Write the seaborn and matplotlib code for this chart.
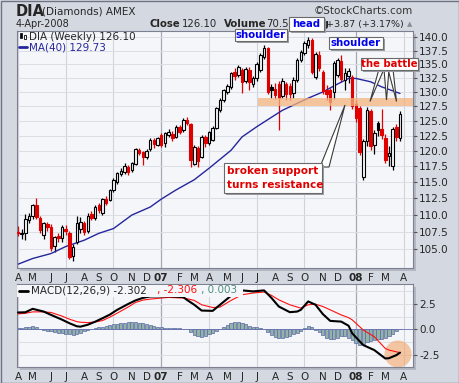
import numpy as np
import pandas as pd
import matplotlib
matplotlib.use("Agg")
import matplotlib.pyplot as plt
import seaborn as sns
from matplotlib.patches import Rectangle, Polygon, Ellipse
from matplotlib.ticker import FixedLocator, FormatStrFormatter, NullLocator

# weekly DIA candles, Apr 2006 - Apr 2008
opens = [107.5, 107.2, 107.3, 109.3, 109.85, 111.5, 109.6, 107.1, 108.6, 108.25,
         105.5, 106.9, 106.6, 108.0, 107.3, 104.05, 106.1, 107.95, 108.8, 107.6,
         110.1, 109.6, 111.5, 110.25, 112.45, 112.3, 113.8, 115.1, 116.35, 116.65,
         117.45, 116.9, 117.9, 120.15, 119.85, 119.05, 120.35, 121.75, 120.95, 122.65,
         121.25, 122.65, 122.85, 122.35, 124.0, 123.45, 125.1, 124.45, 117.95, 120.45,
         119.05, 122.35, 121.25, 121.8, 123.75, 126.85, 128.6, 130.05, 130.95, 133.55,
         133.0, 134.0, 131.9, 134.0, 131.4, 132.4, 134.0, 136.3, 137.9, 130.8,
         130.6, 131.4, 129.3, 131.4, 131.0, 129.8, 132.2, 135.8, 137.0, 138.6,
         139.5, 132.7, 136.7, 133.6, 130.3, 130.4, 130.0, 133.0, 135.5, 132.2,
         132.8, 132.6, 127.8, 127.2, 115.8, 121.6, 126.7, 121.0, 124.6, 123.6,
         122.2, 119.1, 117.6, 124.0, 122.2]
highs = [108.4, 107.9, 110.2, 110.3, 111.7, 112.5, 109.8, 109.0, 109.0, 108.7,
         106.9, 107.3, 108.45, 108.5, 107.6, 105.7, 109.9, 109.7, 109.1, 110.3,
         110.6, 111.5, 111.8, 112.55, 112.9, 114.0, 115.6, 116.65, 117.2, 118.1,
         117.7, 118.2, 120.45, 120.55, 120.05, 120.35, 122.05, 122.15, 122.35, 122.95,
         123.15, 123.55, 123.25, 124.25, 124.35, 125.4, 125.6, 124.65, 120.95, 120.85,
         122.65, 122.65, 123.35, 124.15, 127.45, 128.85, 130.55, 131.4, 133.55, 134.35,
         134.8, 134.35, 134.4, 134.5, 132.8, 135.4, 137.0, 138.55, 138.2, 131.4,
         131.6, 131.9, 132.4, 131.8, 131.6, 132.6, 136.2, 137.6, 139.3, 140.1,
         139.8, 137.2, 137.4, 134.0, 131.2, 130.7, 135.6, 136.2, 136.6, 134.2,
         134.3, 133.0, 128.5, 127.6, 122.0, 127.3, 127.0, 123.5, 125.0, 127.0,
         122.8, 120.8, 124.0, 124.4, 126.7]
lows = [106.9, 106.5, 106.3, 108.75, 109.4, 109.4, 107.3, 106.5, 107.6, 104.8,
        104.6, 106.0, 106.1, 107.1, 103.6, 103.4, 105.8, 107.3, 107.1, 107.4,
        109.3, 109.3, 110.25, 109.95, 111.45, 112.05, 113.5, 114.8, 115.95, 116.25,
        116.15, 116.65, 117.7, 119.35, 117.8, 118.75, 120.05, 120.55, 120.75, 120.65,
        120.65, 122.25, 121.55, 122.05, 122.75, 123.15, 124.3, 117.45, 117.7, 117.35,
        118.8, 120.65, 120.95, 121.55, 123.55, 126.45, 128.25, 129.6, 130.5, 132.2,
        132.6, 129.85, 131.5, 130.4, 130.9, 132.0, 133.6, 135.9, 129.6, 128.9,
        128.7, 123.5, 128.9, 128.6, 128.6, 129.0, 131.8, 135.3, 136.6, 138.0,
        133.2, 132.3, 133.8, 129.6, 128.6, 126.9, 128.7, 132.6, 131.8, 130.4,
        131.5, 127.1, 124.8, 119.3, 115.4, 120.8, 120.2, 119.5, 122.4, 122.0,
        118.1, 117.5, 117.0, 121.7, 121.7]
closes = [107.3, 107.4, 109.4, 109.85, 111.5, 109.7, 107.8, 108.85, 108.3, 105.2,
          106.7, 106.6, 108.2, 107.6, 103.95, 105.35, 108.8, 109.0, 107.5, 109.9,
          109.6, 111.25, 110.7, 112.35, 111.85, 113.8, 115.35, 116.4, 116.75, 117.6,
          116.55, 118.0, 120.25, 119.7, 119.05, 120.05, 121.75, 121.05, 122.05, 120.95,
          122.9, 123.05, 122.15, 124.0, 123.2, 125.1, 124.7, 118.5, 120.7, 118.3,
          122.35, 121.25, 123.15, 123.85, 127.15, 128.6, 130.35, 131.1, 133.3, 132.8,
          134.4, 131.85, 134.1, 131.7, 132.4, 135.1, 136.7, 137.9, 130.0, 130.3,
          129.5, 129.0, 132.0, 129.7, 129.6, 132.2, 135.8, 137.3, 139.0, 139.4,
          133.5, 136.9, 134.2, 130.1, 129.6, 128.3, 135.2, 135.8, 132.3, 133.4,
          133.7, 127.6, 125.5, 119.9, 121.6, 126.9, 120.8, 122.9, 123.5, 122.7,
          118.6, 119.6, 123.6, 122.23, 126.1]

# MA(40) read at a few weeks
ma_week = [0, 4, 9, 13, 18, 22, 26, 31, 36, 39, 43, 48, 52, 58, 61, 65, 69, 72,
           76, 79, 83, 87, 90, 92, 96, 99, 104]
ma_value = [102.9, 103.7, 104.4, 105.4, 106.3, 107.3, 108.0, 110.0, 111.2, 112.4,
            113.8, 115.4, 117.2, 120.1, 122.3, 124.0, 125.6, 126.8, 128.0, 128.9,
            130.0, 131.4, 132.4, 132.4, 131.8, 130.9, 129.73]

# MACD(12,26,9)
macd_week = [0, 2, 4, 7, 9, 12, 14, 16, 17, 19, 21, 23, 25, 27, 30, 32, 34, 36, 41,
             45, 46, 48, 50, 53, 55, 58, 61, 64, 67, 69, 71, 74, 76, 77, 79, 81, 83,
             85, 88, 90, 91, 94, 97, 100, 101, 103, 104]
macd_line = [1.66, 1.68, 2.02, 1.75, 1.42, 0.95, 0.6, 0.3, 0.26, 0.45, 0.75, 1.09,
             1.45, 1.92, 2.5, 2.85, 3.1, 3.24, 3.26, 3.18, 2.9, 2.42, 1.85, 1.82,
             2.42, 3.31, 3.84, 3.74, 3.84, 3.1, 2.25, 1.69, 1.75, 1.92, 2.75, 2.42,
             1.5, 0.83, 0.76, 0.35, -0.4, -1.56, -2.05, -2.88, -2.85, -2.55, -2.302]
signal_line = [1.52, 1.58, 1.72, 1.72, 1.66, 1.3, 1.0, 0.76, 0.7, 0.66, 0.72, 0.86,
               1.2, 1.59, 2.2, 2.65, 2.88, 2.98, 3.15, 3.08, 3.02, 2.85, 2.42, 2.15,
               2.19, 2.85, 3.41, 3.58, 3.68, 3.35, 2.91, 2.42, 2.2, 2.09, 2.42, 2.48,
               2.25, 1.92, 1.42, 1.15, 0.93, -0.07, -0.73, -1.89, -2.05, -2.22, -2.306]
histogram = [0.12, 0.15, 0.2, 0.25, 0.28, 0.2,
             0.05, -0.05, -0.12, -0.2, -0.28, -0.35, -0.4, -0.45, -0.5, -0.55, -0.5, -0.35,
             -0.2, -0.05, 0.05, 0.12, 0.2,
             0.25, 0.32, 0.4, 0.48, 0.55, 0.6, 0.66, 0.7, 0.72, 0.7, 0.66, 0.58, 0.48, 0.38,
             0.3, 0.25, 0.2, 0.15, 0.12, 0.1, 0.1, 0.08, 0.06, 0.02,
             -0.3, -0.55, -0.7, -0.72, -0.65, -0.5, -0.35, -0.15,
             0.05, 0.25, 0.45, 0.6, 0.7, 0.74, 0.62, 0.48, 0.35, 0.25, 0.18, 0.1,
             0.0, -0.3, -0.6, -0.8, -0.9, -0.88, -0.8, -0.68, -0.5, -0.32, -0.15,
             0.12, 0.3, 0.2,
             -0.05, -0.3, -0.6, -0.85, -1.0, -0.95, -0.82, -0.7, -0.68, -0.85, -1.1,
             -1.35, -1.5, -1.45, -1.25, -1.15, -1.1, -1.0, -0.95, -0.9, -0.7, -0.42, -0.18, 0.003]

# resistance zone and axis ranges
zone_low, zone_high, zone_start = 127.6, 129.0, 65.3
price_ticks = np.arange(105, 140.1, 2.5)
macd_ticks = [-2.5, 0.0, 2.5]

sns.set_style("white")
plt.rcParams["font.family"] = ["DejaVu Sans"]
plt.rcParams["axes.unicode_minus"] = False

W, H = 460, 383
PANEL = "#f5f6fa"
RED = "#e00000"


def box(x0, y0, x1, y1):
    return [x0 / W, 1 - y1 / H, (x1 - x0) / W, (y1 - y0) / H]


fig = plt.figure(figsize=(W / 100, H / 100), dpi=100)
fig.patch.set_facecolor("#d4d8e1")

bg = fig.add_axes([0, 0, 1, 1], zorder=0)
bg.set_xlim(0, W)
bg.set_ylim(H, 0)
bg.axis("off")
for (x0, y0, x1, y1) in [(17, 30.7, 413, 268.3), (17, 284, 413, 366.7)]:
    bg.add_patch(Rectangle((x0 + 3, y0 + 3), x1 - x0, y1 - y0, facecolor="#b4b8c3", edgecolor="none"))

ax = fig.add_axes(box(17, 30.7, 413, 268.3), zorder=1)
ax2 = fig.add_axes(box(17, 284, 413, 366.7), zorder=1)

n = len(closes)
x = np.arange(n)
o = np.array(opens)
c = np.array(closes)
prev = np.concatenate([[o[0]], c[:-1]])
cols = np.where(c >= prev, "black", RED)
faces = np.where(c > o, PANEL, cols)

weeks = pd.date_range("2006-04-03", periods=n + 1, freq="W-MON")
month_pos, month_lab, quarter_pos, year_pos = [], [], [], []
last = None
for i, d in enumerate(weeks):
    if (d.year, d.month) != last:
        last = (d.year, d.month)
        month_pos.append(i)
        month_lab.append(d.strftime("%y") if d.month == 1 else d.strftime("%b")[0])
        if d.month in (1, 4, 7, 10):
            (year_pos if d.month == 1 else quarter_pos).append(i)

for a in (ax, ax2):
    a.set_facecolor(PANEL)
    a.set_xlim(-0.27, 107.54)
    for p in quarter_pos:
        a.axvline(p, color="#d0d3dc", lw=0.8, zorder=0)
    for p in year_pos:
        a.axvline(p, color="#a6a9b4", lw=0.9, zorder=0)
    a.set_xticks(month_pos)
    a.set_xticklabels(month_lab)
    for lab in a.get_xticklabels():
        if lab.get_text().isdigit():
            lab.set_fontweight("bold")
    a.tick_params(axis="x", length=2, pad=1.5, labelsize=7.5, color="#555")
    a.yaxis.tick_right()
    a.tick_params(axis="y", length=3, pad=1.5, labelsize=7.5, color="#555")
    for s in a.spines.values():
        s.set_color("#7d8090")
        s.set_linewidth(0.8)

# price panel
ax.set_yscale("log")
ax.set_ylim(102.33, 141.26)
ax.yaxis.set_major_locator(FixedLocator(price_ticks))
ax.yaxis.set_major_formatter(FormatStrFormatter("%.1f"))
ax.yaxis.set_minor_locator(NullLocator())
for t in price_ticks:
    ax.axhline(t, color="#dcdee6", lw=0.7, zorder=0)

ax.vlines(x, lows, highs, colors=cols, lw=0.9, zorder=2)
ax.bar(x, np.maximum(np.abs(c - o), 0.08), bottom=np.minimum(o, c), width=0.68,
       color=faces, edgecolor=cols, linewidth=0.8, zorder=3)
sns.lineplot(x=ma_week, y=ma_value, ax=ax, color="#26269c", lw=1.0, legend=False, zorder=2)
ax.fill_between([zone_start, 107.54], zone_low, zone_high, color="#f4b47e", alpha=0.75,
                lw=0, zorder=4)
ax.set_xlabel("")
ax.set_ylabel("")

# MACD panel
ax2.set_ylim(-3.69, 4.47)
ax2.set_yticks(macd_ticks)
ax2.yaxis.set_major_formatter(FormatStrFormatter("%.1f"))
for t in np.arange(-2.5, 4.0, 1.25):
    ax2.axhline(t, color="#dcdee6", lw=0.7, zorder=0)
ax2.bar(x, histogram, width=0.85, color="#93b3a6", edgecolor="#5a67a8", linewidth=0.5, zorder=2)
ax2.axhline(0, color="#6a74b0", lw=0.6, zorder=2)

ov = fig.add_axes([0, 0, 1, 1], zorder=10)
ov.set_xlim(0, W)
ov.set_ylim(H, 0)
ov.axis("off")

ax2.add_patch(Ellipse((398, 354), 27, 27, transform=ov.transData, facecolor="#f3a56a",
                      alpha=0.6, edgecolor="none", zorder=1, clip_on=False))
sns.lineplot(x=macd_week, y=signal_line, ax=ax2, color="#ff1010", lw=0.8, legend=False, zorder=3)
sns.lineplot(x=macd_week, y=macd_line, ax=ax2, color="black", lw=1.5, legend=False, zorder=4)
ax2.set_xlabel("")
ax2.set_ylabel("")

# header
ov.add_patch(Rectangle((0.5, 0.5), W - 1, H - 1, fill=False, edgecolor="#6f7383", lw=1))
ov.text(16, 11, "DIA", fontsize=10.5, fontweight="bold", va="center")
ov.text(42, 11, "(Diamonds) AMEX", fontsize=7.5, va="center")
ov.text(413, 11, "\u00a9StockCharts.com", fontsize=7.5, va="center", ha="right", color="#333")
ov.text(16, 24, "4-Apr-2008", fontsize=7, va="center")
ov.text(150, 24, "Close", fontsize=7.3, fontweight="bold", va="center")
ov.text(182, 24, "126.10", fontsize=7.3, va="center")
ov.text(224, 24, "Volume", fontsize=7.3, fontweight="bold", va="center")
ov.text(266, 24, "70.5", fontsize=7.3, va="center")
ov.text(330, 24, "Chg", fontsize=7.3, fontweight="bold", va="center", ha="right", zorder=0.5)
ov.text(404, 24, "+3.87 (+3.17%)", fontsize=6.8, va="center", ha="right")
ov.text(410, 24, "\u25b2", fontsize=5, va="center", ha="center", color="#8a8d99")

# legends
ov.add_patch(Rectangle((20, 33), 2.5, 5, facecolor="black", edgecolor="black", lw=0.5))
ov.add_patch(Rectangle((24, 35), 2.5, 4, facecolor="white", edgecolor="black", lw=0.6))
ov.text(29, 36.5, "DIA (Weekly) 126.10", fontsize=7.5, va="center")
ov.plot([19, 27], [46.5, 46.5], color="#26269c", lw=2)
ov.text(29, 47, "MA(40) 129.73", fontsize=7.5, va="center", color="#26269c")

ov.add_patch(Rectangle((17.5, 284.5), 226, 12, facecolor=PANEL, edgecolor="none"))
ov.plot([19, 28], [290.5, 290.5], color="black", lw=2)
ov.text(31, 290.5, "MACD(12,26,9) -2.302", fontsize=7.5, va="center")
ov.text(157, 290.5, ", -2.306", fontsize=7.5, va="center", color="#ff1010")
ov.text(201, 290.5, ", 0.003", fontsize=7.5, va="center", color="#4f8f7f")


def note(x0, y0, x1, y1):
    ov.add_patch(Rectangle((x0 + 2, y0 + 2), x1 - x0, y1 - y0, facecolor="#9a9ca4",
                           edgecolor="none", zorder=1))
    ov.add_patch(Rectangle((x0, y0), x1 - x0, y1 - y0, facecolor="white",
                           edgecolor="#6a6a6a", lw=0.8, zorder=1))


def wedge(base_l, base_r, tip):
    ov.add_patch(Polygon([base_l, base_r, tip], closed=True, facecolor="white",
                         edgecolor="#3a3a3a", lw=0.8, zorder=1))


note(235, 29, 287, 41)
ov.text(261, 35.3, "shoulder", fontsize=7.3, fontweight="bold", color="#0000ee", ha="center", va="center")
note(289, 17, 324, 31)
ov.text(306.5, 24.3, "head", fontsize=7.3, fontweight="bold", color="#0000ee", ha="center", va="center")
note(329, 37, 383, 49)
ov.text(356, 43.3, "shoulder", fontsize=7.3, fontweight="bold", color="#0000ee", ha="center", va="center")

wedge((379, 69), (384, 69), (370, 101.5))
wedge((384, 69), (389, 69), (386.5, 100))
wedge((388, 69), (393, 69), (396.5, 101.5))
note(361, 58, 418, 70)
ov.text(389.5, 64.3, "the battle", fontsize=7.3, fontweight="bold", color=RED, ha="center", va="center")

wedge((320, 167), (329, 167), (345, 105))
note(224, 163, 322, 193)
ov.text(227, 171.5, "broken support", fontsize=7.6, fontweight="bold", color=RED, va="center")
ov.text(227, 185, "turns resistance", fontsize=7.6, fontweight="bold", color=RED, va="center")

fig.savefig("out.png", dpi=100, facecolor=fig.get_facecolor())
